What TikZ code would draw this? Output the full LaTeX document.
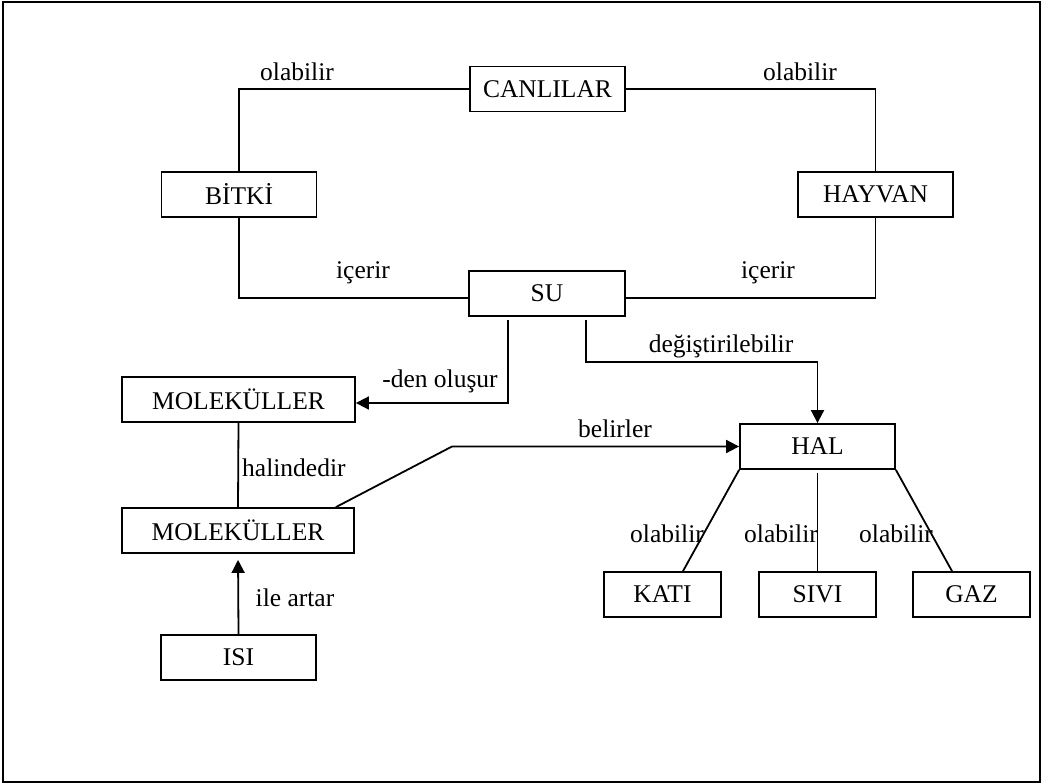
\documentclass[tikz,border=0pt]{standalone}
\usepackage{fontspec}
\setmainfont{Liberation Serif}
\usetikzlibrary{arrows.meta}
\begin{document}
\begin{tikzpicture}[x=1pt,y=-1pt,
  box/.style={draw,line width=1.8pt,minimum height=45pt,inner sep=0pt,font=\fontsize{25.5}{30}\selectfont},
  lbl/.style={inner sep=0pt,font=\fontsize{25.5}{30}\selectfont},
  conn/.style={line width=1.8pt},
  arr/.style={conn,-{Triangle[length=13pt,width=13pt]}}]
\useasboundingbox (0,0) rectangle (1042,784);
\draw[line width=2pt] (2.5,2.5) rectangle (1039.5,781.5);
% nodes
\node[box,minimum width=155pt] (can) at (547.5,89) {CANLILAR};
\node[box,minimum width=155pt] (bit) at (239,194.5) {BİTKİ};
\node[box,minimum width=155pt] (hay) at (875.5,194.5) {HAYVAN};
\node[box,minimum width=156pt] (su) at (547,293.5) {SU};
\node[box,minimum width=233pt] (m1) at (238.5,399.5) {MOLEKÜLLER};
\node[box,minimum width=232pt] (m2) at (238,530.5) {MOLEKÜLLER};
\node[box,minimum width=155pt] (isi) at (238.5,657.5) {ISI};
\node[box,minimum width=155pt] (hal) at (817.5,446.5) {HAL};
\node[box,minimum width=117pt] (kati) at (662.5,594.5) {KATI};
\node[box,minimum width=117pt] (sivi) at (817.5,594.5) {SIVI};
\node[box,minimum width=117pt] (gaz) at (971.5,594.5) {GAZ};
% connectors
\draw[conn] (can.west) -| (bit.north);
\draw[conn] (can.east) -| (hay.north);
\draw[conn] (bit.south) |- ([yshift=-4.5pt]su.west);
\draw[conn] (hay.south) |- ([yshift=-4.5pt]su.east);
\draw[arr] ([xshift=-39pt,yshift=-3pt]su.south) |- ([yshift=-3.5pt]m1.east);
\draw[arr] ([xshift=39pt,yshift=-3pt]su.south) -- ++(0,42) -| (hal.north);
\coordinate (bend) at (452,446.5);
\draw[arr] ([xshift=-19pt]m2.north east) -- (bend) -- (hal.west);
\draw[conn] (m1.south) -- (m2.north);
\draw[arr,shorten >=6pt] (isi.north) -- (m2.south);
\draw[conn] (hal.south west) -- ([xshift=20.5pt]kati.north);
\draw[conn] ([yshift=-3pt]hal.south) -- (sivi.north);
\draw[conn] (hal.south east) -- ([xshift=-19.5pt]gaz.north);
% labels
\node[lbl] (l1) at (297,72) {olabilir};
\node[lbl] (l2) at (800,72) {olabilir};
\node[lbl] (l3) at (363,273) {içerir};
\node[lbl] (l4) at (768,273) {içerir};
\node[lbl] (l5) at (440,381) {-den oluşur};
\node[lbl] (l6) at (721,346) {değiştirilebilir};
\node[lbl] (l7) at (615,429) {belirler};
\node[lbl,anchor=west] (l8) at (242,468) {halindedir};
\node[lbl] (l9) at (295,598) {ile artar};
\node[lbl] (l10) at (667,534) {olabilir};
\node[lbl] (l11) at (781,534) {olabilir};
\node[lbl] (l12) at (896,534) {olabilir};
\end{tikzpicture}
\end{document}
